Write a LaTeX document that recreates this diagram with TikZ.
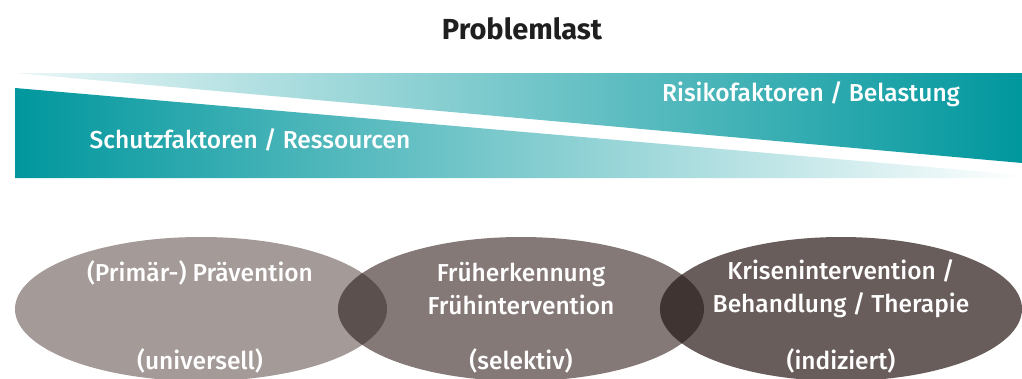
\documentclass[tikz,border=0pt]{standalone}
\usepackage{fontspec}
\setmainfont{Fira Sans}
\newfontfamily\medfont{Fira Sans Medium}
\definecolor{teal}{RGB}{0,151,157}
\definecolor{ovA}{RGB}{164,154,152}
\definecolor{ovB}{RGB}{132,121,119}
\definecolor{ovC}{RGB}{104,93,91}
\definecolor{lensA}{RGB}{92,80,78}
\definecolor{lensB}{RGB}{64,52,50}
\begin{document}
\begin{tikzpicture}[x=1pt,y=-1pt,font=\medfont\fontsize{24.5}{33}\selectfont,
  bandtext/.style={text=white,inner sep=0pt},
  ovaltext/.style={text=white,inner sep=0pt,align=center}]
\useasboundingbox (0,0) rectangle (1022,378);
% title
\node[font=\fontsize{29}{33}\selectfont\bfseries,text=black!88] (title) at (522,29) {Problemlast};
% band
\shade[left color=teal!8,middle color=teal!55,right color=teal] (15,73) -- (1022,73) -- (1022,163) -- cycle;
\shade[left color=teal,middle color=teal!50,right color=white] (15,88) -- (1022,175) -- (1022,178) -- (15,178) -- cycle;
\node[bandtext] (schutz) at (250,140) {Schutzfaktoren / Ressourcen};
\node[bandtext] (risiko) at (811,94) {Risikofaktoren / Belastung};
% ovals
\fill[ovA] (201,309) ellipse [x radius=186,y radius=72];
\fill[ovB] (521,309) ellipse [x radius=183,y radius=72];
\fill[ovC] (841,309) ellipse [x radius=181,y radius=72];
\begin{scope}
\clip (201,309) ellipse [x radius=186,y radius=72];
\fill[lensA] (521,309) ellipse [x radius=183,y radius=72];
\end{scope}
\begin{scope}
\clip (521,309) ellipse [x radius=183,y radius=72];
\fill[lensB] (841,309) ellipse [x radius=181,y radius=72];
\end{scope}
\node[ovaltext] (praev) at (200,273) {(Primär-) Prävention};
\node[ovaltext] (univ) at (200,361) {(universell)};
\node[ovaltext] (frueh) at (521,289) {Früherkennung\\Frühintervention};
\node[ovaltext] (selek) at (521,361) {(selektiv)};
\node[ovaltext] (krise) at (841,289) {Krisenintervention /\\Behandlung / Therapie};
\node[ovaltext] (indiz) at (841,361) {(indiziert)};
\end{tikzpicture}
\end{document}
